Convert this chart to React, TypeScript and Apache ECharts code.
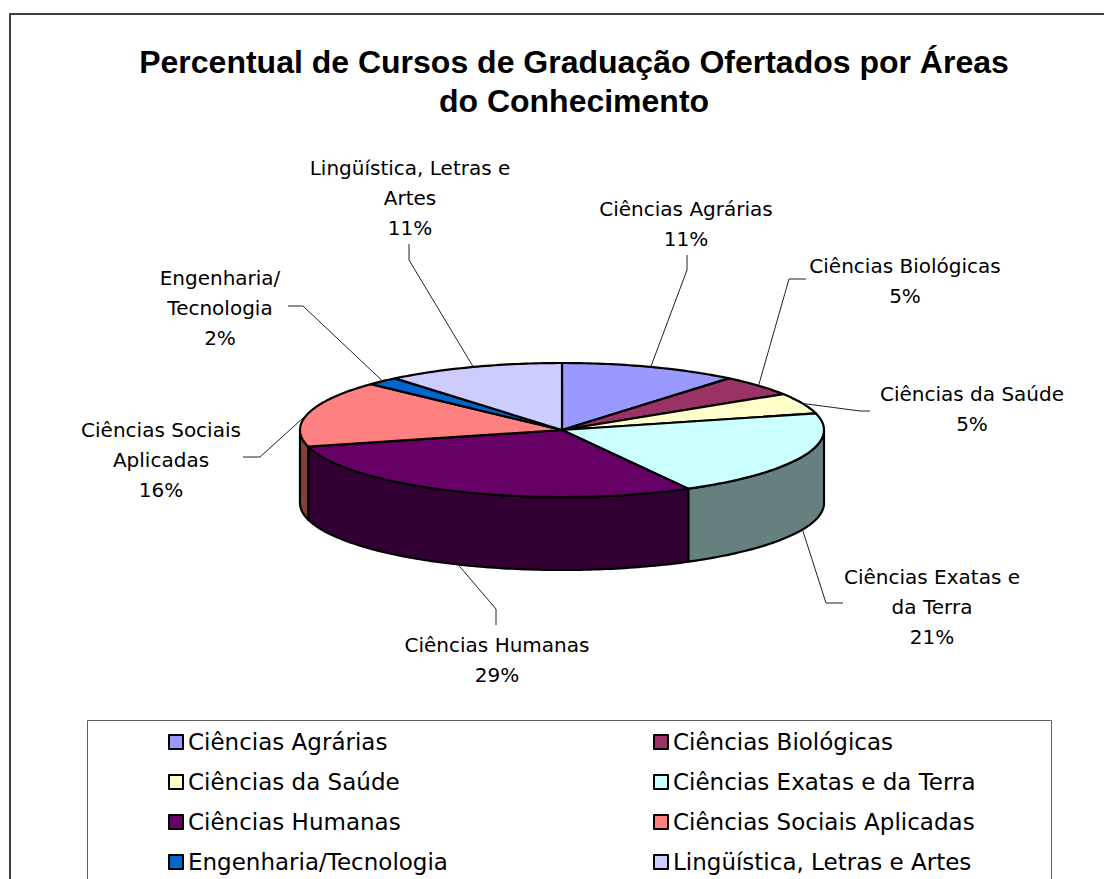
import React, { useEffect, useRef } from 'react';
import * as echarts from 'echarts';

// ---- Data ----
const categories = [
  'Ciências Agrárias',
  'Ciências Biológicas',
  'Ciências da Saúde',
  'Ciências Exatas e da Terra',
  'Ciências Humanas',
  'Ciências Sociais Aplicadas',
  'Engenharia/Tecnologia',
  'Lingüística, Letras e Artes',
];
const percentages = [11, 5, 5, 21, 29, 16, 2, 11];
const labelNames = [
  'Ciências Agrárias',
  'Ciências Biológicas',
  'Ciências da Saúde',
  'Ciências Exatas e\nda Terra',
  'Ciências Humanas',
  'Ciências Sociais\nAplicadas',
  'Engenharia/\nTecnologia',
  'Lingüística, Letras e\nArtes',
];
const legendColumn1 = [categories[0], categories[2], categories[4], categories[6]];
const legendColumn2 = [categories[1], categories[3], categories[5], categories[7]];

// ---- Styles ----
const topColors = ['#9999FF', '#993366', '#FFFFCC', '#CCFFFF', '#660066', '#FF8080', '#0066CC', '#CCCCFF'];
const sideColors = ['#4D4D80', '#4D1A33', '#808066', '#668080', '#330033', '#804040', '#003366', '#666680'];

// ---- Layout ----
const CX = 562;
const CY = 430;
const RX = 262;
const RY = 67;
const DEPTH = 73;
const LABEL_FONT = '20px "DejaVu Sans", Verdana, sans-serif';
const labelLayout = [
  { x: 686, y: 224, elbow: [[687, 255], [687, 270]] },
  { x: 905, y: 281, elbow: [[806, 279], [789, 279]] },
  { x: 972, y: 409, elbow: [[870, 411], [860, 411]] },
  { x: 932, y: 607, elbow: [[843, 603], [826, 603]] },
  { x: 497, y: 660, elbow: [[496, 625], [496, 609]] },
  { x: 161, y: 460, elbow: [[243, 457], [260, 457]] },
  { x: 220, y: 308, elbow: [[288, 306], [303, 306]] },
  { x: 410, y: 198, elbow: [[409, 244], [409, 260]] },
];

const total = percentages.reduce((a, b) => a + b, 0);
const cumulative: number[] = [];
percentages.reduce((acc, v, i) => {
  cumulative[i] = acc;
  return acc + v;
}, 0);

function pt(deg: number, dy = 0): number[] {
  const a = (deg * Math.PI) / 180;
  return [CX + RX * Math.sin(a), CY - RY * Math.cos(a) + dy];
}

function arc(from: number, to: number, dy = 0): number[][] {
  const pts: number[][] = [];
  const steps = Math.max(2, Math.ceil(Math.abs(to - from)));
  for (let k = 0; k <= steps; k++) {
    pts.push(pt(from + ((to - from) * k) / steps, dy));
  }
  return pts;
}

export default function App() {
  const ref = useRef<HTMLDivElement>(null);

  useEffect(() => {
    if (!ref.current) return;
    const chart = echarts.init(ref.current, undefined, { renderer: 'svg' });

    const renderItem = (params: any, api: any) => {
      const i = params.dataIndex;
      const value = api.value(0);
      const start = (cumulative[i] / total) * 360;
      const end = ((cumulative[i] + value) / total) * 360;
      const children: any[] = [];

      // visible side wall (front half: 90..270 deg)
      const lo = Math.max(start, 90);
      const hi = Math.min(end, 270);
      if (lo < hi) {
        const pts = arc(lo, hi).concat(arc(hi, lo, DEPTH));
        children.push({
          type: 'polygon',
          shape: { points: pts },
          style: { fill: sideColors[i], stroke: '#000', lineWidth: 2.2, lineJoin: 'round' },
        });
      }

      // top face
      const topPts = [[CX, CY]].concat(arc(start, end));
      children.push({
        type: 'polygon',
        shape: { points: topPts },
        style: { fill: topColors[i], stroke: '#000', lineWidth: 2.2, lineJoin: 'round' },
      });

      // leader line
      const mid = (start + end) / 2;
      const anchor = mid > 90 && mid < 270 ? pt(mid, DEPTH) : pt(mid);
      const lay = labelLayout[i];
      children.push({
        type: 'polyline',
        shape: { points: [...lay.elbow, anchor] },
        style: { stroke: '#222', lineWidth: 1, fill: null },
      });

      // label
      children.push({
        type: 'text',
        x: lay.x,
        y: lay.y,
        style: {
          text: `${labelNames[i]}\n${value}%`,
          font: LABEL_FONT,
          fill: '#000',
          align: 'center',
          verticalAlign: 'middle',
          textAlign: 'center',
          textVerticalAlign: 'middle',
          lineHeight: 30,
        },
      });

      return { type: 'group', children };
    };

    const legendCommon = {
      orient: 'vertical' as const,
      top: 729,
      height: 300,
      padding: 0,
      itemWidth: 14,
      itemHeight: 14,
      itemGap: 14,
      icon: 'rect',
      itemStyle: { borderColor: '#000', borderWidth: 2 },
      textStyle: {
        fontFamily: '"DejaVu Sans", Verdana, sans-serif',
        fontSize: 23,
        lineHeight: 26,
        color: '#000',
      },
      selectedMode: false,
    };

    chart.setOption({
      animation: false,
      backgroundColor: '#fff',
      title: {
        text: 'Percentual de Cursos de Graduação Ofertados por Áreas\ndo Conhecimento',
        left: 574,
        top: 42,
        padding: 0,
        textAlign: 'center',
        textStyle: {
          fontFamily: '"Liberation Sans", Arial, sans-serif',
          fontWeight: 'bold',
          fontSize: 32,
          lineHeight: 39,
          color: '#000',
        },
      },
      legend: [
        { ...legendCommon, left: 168, data: legendColumn1 },
        { ...legendCommon, left: 653, data: legendColumn2 },
      ],
      graphic: [
        {
          type: 'rect',
          shape: { x: 10, y: 14, width: 1200, height: 1000 },
          style: { fill: 'transparent', stroke: '#404040', lineWidth: 2 },
          silent: true,
        },
        {
          type: 'rect',
          shape: { x: 87.5, y: 720.5, width: 964, height: 300 },
          style: { fill: 'transparent', stroke: '#606060', lineWidth: 1 },
          silent: true,
        },
      ],
      series: [
        {
          type: 'custom',
          name: 'Percentual',
          coordinateSystem: 'none',
          renderItem,
          data: percentages.map((v) => [v]),
          silent: true,
        },
        {
          type: 'pie',
          name: 'legenda',
          radius: [0, 0],
          center: [-200, -200],
          label: { show: false },
          labelLine: { show: false },
          silent: true,
          itemStyle: { borderWidth: 0 },
          data: categories.map((name, i) => ({
            name,
            value: percentages[i],
            itemStyle: { color: topColors[i] },
          })),
        },
      ],
    });

    return () => chart.dispose();
  }, []);

  return (
    <div
      ref={ref}
      style={{ position: 'fixed', left: 0, top: 0, width: 1104, height: 879, background: '#fff' }}
    />
  );
}
